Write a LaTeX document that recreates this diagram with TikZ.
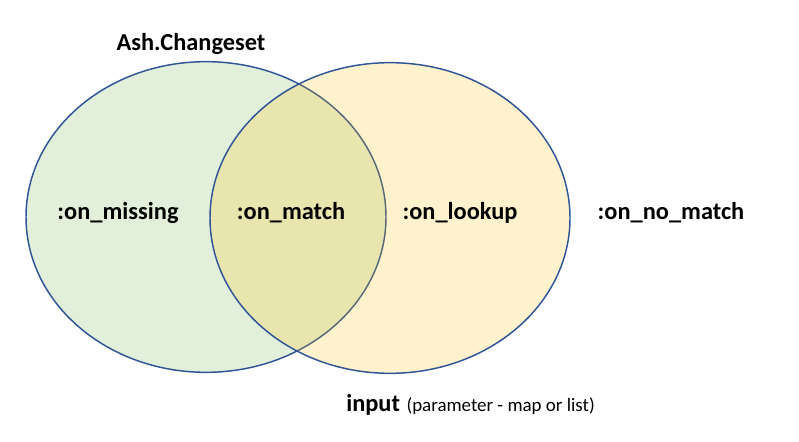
\documentclass[tikz,border=0pt]{standalone}
\usepackage{fontspec}
\setmainfont{Carlito}
\usepackage{xcolor}
\usetikzlibrary{positioning,shapes}

\definecolor{verde}{RGB}{112,173,71}
\definecolor{ouro}{RGB}{255,192,0}
\definecolor{azul}{RGB}{47,85,151}

\begin{document}
\begin{tikzpicture}[
			x=0.75pt, y=-0.75pt,
			conj/.style={ellipse, draw=azul, line width=1.1pt, inner sep=0pt,
				minimum width=270pt, minimum height=233pt, fill opacity=0.2},
			rot/.style={font=\fontsize{18.3}{21}\selectfont\bfseries},
			nota/.style={font=\fontsize{14.2}{16}\selectfont}
			]
			\useasboundingbox (0,0) rectangle (799,442);
			
			% Conjuntos
			\node[conj, fill=verde] (changeset) at (206,217) {};
			\node[conj, fill=ouro] (input) at (390,218) {};
			
			% Titulos dos conjuntos
			\node[rot] (tchangeset) at (191,44) {Ash.Changeset};
			\node[rot, inner sep=0pt, anchor=base west] (tinput) at (346,411) {input};
			\node[nota, inner sep=0pt] (tparam) [right=4.5pt of tinput.base east, anchor=base west] {(parameter - map or list)};
			
			% Regioes
			\node[rot] (missing) at (118,213) {:on\_missing};
			\node[rot] (match) at (291,213) {:on\_match};
			\node[rot] (lookup) at (460,213) {:on\_lookup};
			\node[rot] (nomatch) at (671,213) {:on\_no\_match};
			
		\end{tikzpicture}
\end{document}
